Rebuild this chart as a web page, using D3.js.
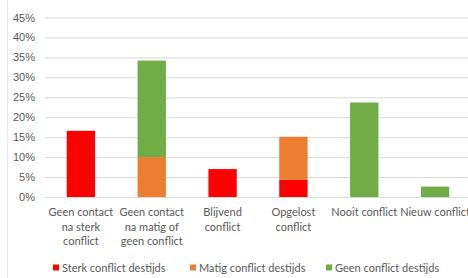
<!DOCTYPE html>
<html>
<head>
<meta charset="utf-8">
<script src="https://cdn.jsdelivr.net/npm/d3@7"></script>
<style>
  body { margin: 0; background: #fff; }
  svg { display: block; font-family: Lato, "Liberation Sans", sans-serif; }
</style>
</head>
<body>
<svg class="chart"></svg>
<script>
var width = 468
var height = 278

// data
var categories = [
  ["Geen contact", "na sterk", "conflict"],
  ["Geen contact", "na matig of", "geen conflict"],
  ["Blijvend", "conflict"],
  ["Opgelost", "conflict"],
  ["Nooit conflict"],
  ["Nieuw conflict"]
]
var seriesNames = ["Sterk conflict destijds", "Matig conflict destijds", "Geen conflict destijds"]
var sterk = [16.6, 0, 7.0, 4.3, 0, 0]
var matig = [0, 10.0, 0, 10.8, 0, 0]
var geen = [0, 24.2, 0, 0, 23.7, 2.6]
var yTicks = [0, 5, 10, 15, 20, 25, 30, 35, 40, 45]
var colors = ["#ff0000", "#ed7d31", "#70ad47"]

var rows = categories.map(function(c, i) {
  return { idx: i, sterk: sterk[i], matig: matig[i], geen: geen[i] }
})
var keys = ["sterk", "matig", "geen"]

var svg = d3.select('.chart')
  .attr('width', width)
  .attr('height', height)

// faint sheet border on the left
svg.append('line')
  .attr('x1', 7.5).attr('x2', 7.5)
  .attr('y1', 0).attr('y2', height)
  .attr('stroke', '#ececec')

var x = d3.scaleBand()
  .domain(d3.range(categories.length))
  .range([45.5, 470.5])
  .paddingInner(0.6)
  .paddingOuter(0.3)

var y = d3.scaleLinear()
  .domain([0, 45])
  .range([197, 17.5])

// gridlines + y labels
var yAxis = d3.axisLeft(y)
  .tickValues(yTicks)
  .tickFormat(function(d) { return d + '%' })
  .tickSize(-(width - 45))
  .tickPadding(10)

var gy = svg.append('g')
  .attr('transform', 'translate(45,0)')
  .call(yAxis)
gy.select('.domain').remove()
gy.selectAll('.tick line').attr('stroke', '#d9d9d9')
gy.selectAll('.tick text')
  .attr('fill', '#595959')
  .attr('font-size', 11)

// stacked bars
var stack = d3.stack().keys(keys)(rows)

svg.append('g')
  .selectAll('g')
  .data(stack)
  .enter()
  .append('g')
  .attr('fill', function(d, i) { return colors[i] })
  .selectAll('rect')
  .data(function(d) { return d.filter(function(p) { return p[1] - p[0] > 0 }) })
  .enter()
  .append('rect')
  .attr('x', function(d) { return x(d.data.idx) })
  .attr('width', x.bandwidth())
  .attr('y', function(d) { return y(d[1]) })
  .attr('height', function(d) { return y(d[0]) - y(d[1]) })

// category labels
var gx = svg.append('g')
gx.selectAll('text')
  .data(categories)
  .enter()
  .append('text')
  .attr('text-anchor', 'middle')
  .attr('fill', '#595959')
  .attr('font-size', 11)
  .attr('x', function(d, i) { return x(i) + x.bandwidth() / 2 })
  .attr('y', 216)
  .selectAll('tspan')
  .data(function(d) { return d })
  .enter()
  .append('tspan')
  .attr('x', function() { return d3.select(this.parentNode).attr('x') })
  .attr('dy', function(d, i) { return i ? 14.5 : 0 })
  .text(function(d) { return d })

// legend
var legendX = [53, 190, 326]
var lg = svg.append('g')
  .selectAll('g')
  .data(seriesNames)
  .enter()
  .append('g')
  .attr('transform', function(d, i) { return 'translate(' + legendX[i] + ',268)' })
lg.append('rect')
  .attr('x', 0).attr('y', -3.5)
  .attr('width', 6).attr('height', 6)
  .attr('fill', function(d, i) { return colors[i] })
lg.append('text')
  .attr('x', 9)
  .attr('y', 4)
  .attr('fill', '#595959')
  .attr('font-size', 11)
  .text(function(d) { return d })
</script>
</body>
</html>
